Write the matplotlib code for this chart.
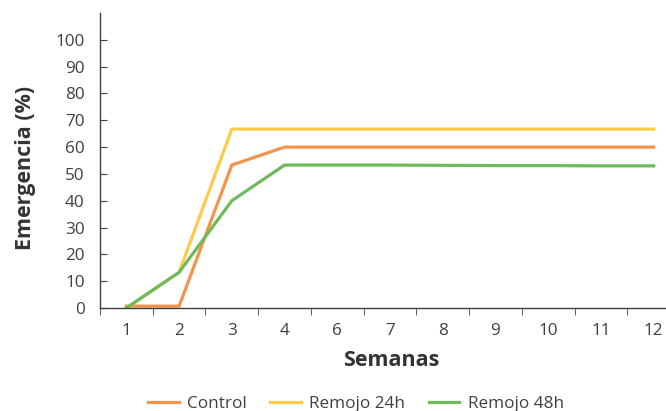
import matplotlib
matplotlib.use("Agg")
import matplotlib.pyplot as plt
import numpy as np

semanas = ["1", "2", "3", "4", "6", "7", "8", "9", "10", "11", "12"]
control = [0.7, 0.7, 53.3, 60, 60, 60, 60, 60, 60, 60, 60]
remojo_24h = [0, 13.3, 66.7, 66.7, 66.7, 66.7, 66.7, 66.7, 66.7, 66.7, 66.7]
remojo_48h = [0, 13.3, 40, 53.3, 53.3, 53.3, 53.2, 53.1, 53.1, 53, 53]

plt.rcParams['font.family'] = ['Open Sans', 'DejaVu Sans']

fig = plt.figure(figsize=(6.66, 4.11), dpi=100)
ax = fig.add_axes([100 / 666, (411 - 308) / 411, 580 / 666, 295 / 411])

x = np.arange(len(semanas))
ax.plot(x, control, color='#F4934A', lw=2.3, label='Control')
ax.plot(x, remojo_24h, color='#FECB4B', lw=2.3, label='Remojo 24h')
ax.plot(x, remojo_48h, color='#6DBB5B', lw=2.3, label='Remojo 48h')

ax.set_xlim(-0.5, len(semanas) - 0.5)
ax.set_ylim(0, 110)
ax.set_yticks(range(0, 101, 10))
ax.set_xticks(x)
ax.set_xticklabels(semanas)
ax.set_xticks(np.arange(-0.5, len(semanas), 1), minor=True)

for s in ['top', 'right']:
    ax.spines[s].set_visible(False)
for s in ['left', 'bottom']:
    ax.spines[s].set_color('#404040')
    ax.spines[s].set_linewidth(1)

ax.tick_params(axis='x', which='major', length=0, pad=11, labelsize=12.3, colors='#404040')
ax.tick_params(axis='x', which='minor', length=5, direction='out', color='#404040')
ax.tick_params(axis='y', length=5, direction='in', pad=11, labelsize=12.3, colors='#404040')

fig.text(391 / 666, 1 - 360 / 411, 'Semanas', fontsize=15.5, fontweight='bold',
         color='#333333', ha='center', va='center')
fig.text(26 / 666, 1 - 168 / 411, 'Emergencia (%)', rotation=90, fontsize=15.5,
         fontweight='bold', color='#333333', ha='center', va='center')

fig.legend(loc='center', bbox_to_anchor=(356 / 666, 1 - 404 / 411), ncol=3,
           frameon=False, fontsize=12.3, handlelength=1.8, handletextpad=0.5,
           columnspacing=1.35, labelcolor='#404040')

fig.savefig('out.png', dpi=100)
